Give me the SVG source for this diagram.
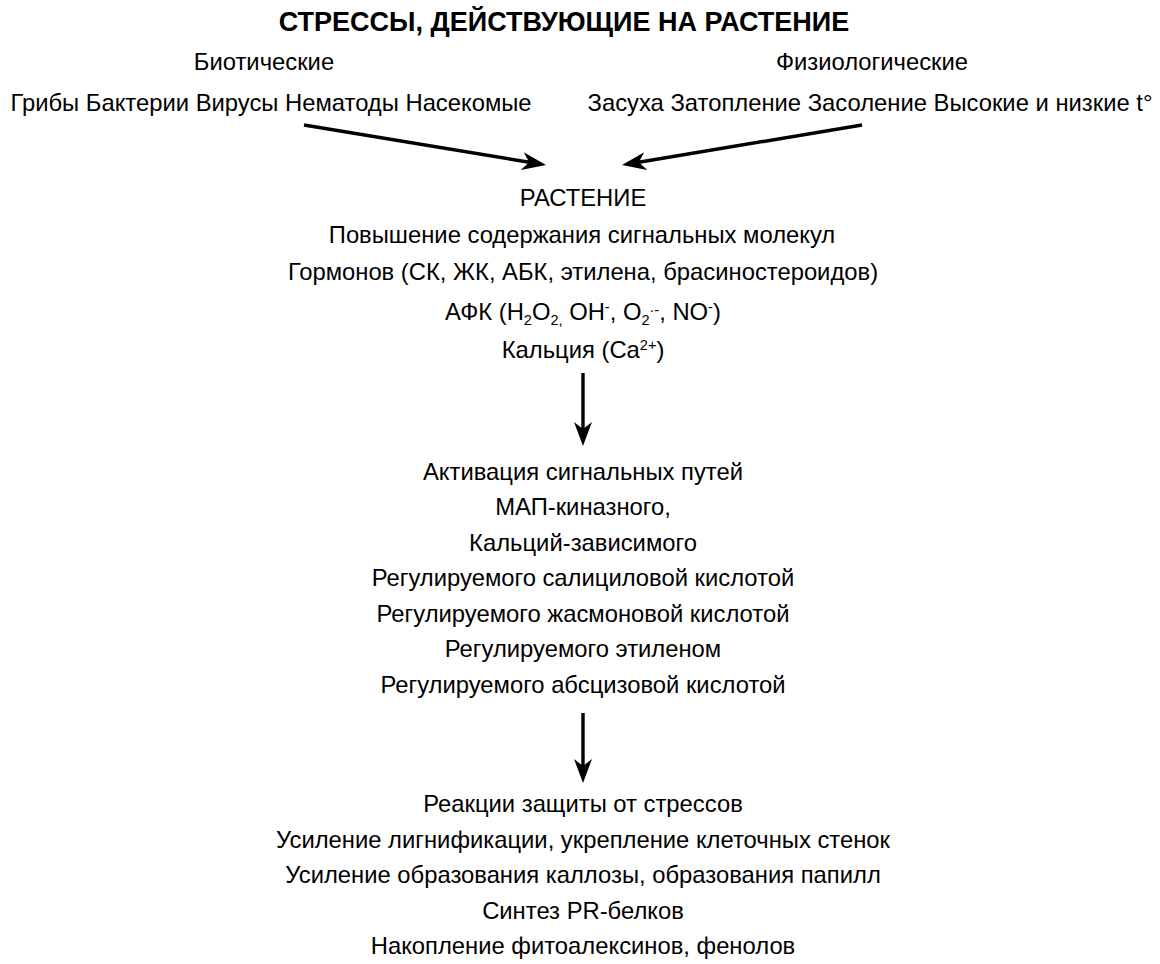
<svg xmlns="http://www.w3.org/2000/svg" width="1160" height="964" viewBox="0 0 1160 964">
<defs>
<style>
text{font-family:"Liberation Sans",Arial,sans-serif;font-size:23.8px;fill:#000;text-anchor:middle}
.title{font-weight:bold;font-size:27px}
.s{font-size:14.5px}
.conn{stroke:#000;stroke-width:3.4;fill:none}
</style>
<marker id="ah" viewBox="0 -10 24 20" refX="7" refY="0" markerWidth="24" markerHeight="20" markerUnits="userSpaceOnUse" orient="auto">
<path d="M0,-9 L24,0 L0,9 L7,0 Z" fill="#000"/>
</marker>
</defs>
<rect width="1160" height="964" fill="#fff"/>
<g id="title"><text class="title" x="564" y="31">СТРЕССЫ, ДЕЙСТВУЮЩИЕ НА РАСТЕНИЕ</text></g>
<g id="biotic">
<text x="264" y="70">Биотические</text>
<text x="271" y="111">Грибы Бактерии Вирусы Нематоды Насекомые</text>
</g>
<g id="physio">
<text x="872" y="70">Физиологические</text>
<text x="870" y="111">Засуха Затопление Засоление Высокие и низкие t°</text>
</g>
<g id="plant">
<text x="583" y="206">РАСТЕНИЕ</text>
<text x="582" y="243">Повышение содержания сигнальных молекул</text>
<text x="583" y="280">Гормонов (СК, ЖК, АБК, этилена, брасиностероидов)</text>
<text x="583" y="320">АФК (H<tspan class="s" dy="5">2</tspan><tspan dy="-5">O</tspan><tspan class="s" dy="5">2,</tspan><tspan dy="-5"> OH</tspan><tspan class="s" dy="-8">-</tspan><tspan dy="8">, O</tspan><tspan class="s" dy="5">2</tspan><tspan class="s" dy="-10">·-</tspan><tspan dy="5">, NO</tspan><tspan class="s" dy="-8">-</tspan><tspan dy="8">)</tspan></text>
<text x="583" y="358">Кальция (Ca<tspan class="s" dy="-8">2+</tspan><tspan dy="8">)</tspan></text>
</g>
<g id="pathways">
<text x="583" y="480">Активация сигнальных путей</text>
<text x="583" y="515">МАП-киназного,</text>
<text x="583" y="551">Кальций-зависимого</text>
<text x="583" y="586">Регулируемого салициловой кислотой</text>
<text x="583" y="622">Регулируемого жасмоновой кислотой</text>
<text x="583" y="657">Регулируемого этиленом</text>
<text x="583" y="693">Регулируемого абсцизовой кислотой</text>
</g>
<g id="defense">
<text x="583" y="812">Реакции защиты от стрессов</text>
<text x="583" y="848">Усиление лигнификации, укрепление клеточных стенок</text>
<text x="583" y="883">Усиление образования каллозы, образования папилл</text>
<text x="583" y="919">Синтез PR-белков</text>
<text x="583" y="954">Накопление фитоалексинов, фенолов</text>
</g>
<g id="connectors">
<line class="conn" x1="304" y1="125" x2="529.2" y2="162.2" marker-end="url(#ah)"/>
<line class="conn" x1="862" y1="125" x2="638.8" y2="162.2" marker-end="url(#ah)"/>
<line class="conn" x1="583" y1="373" x2="583" y2="429" marker-end="url(#ah)"/>
<line class="conn" x1="583" y1="713" x2="583" y2="766" marker-end="url(#ah)"/>
</g>
</svg>
